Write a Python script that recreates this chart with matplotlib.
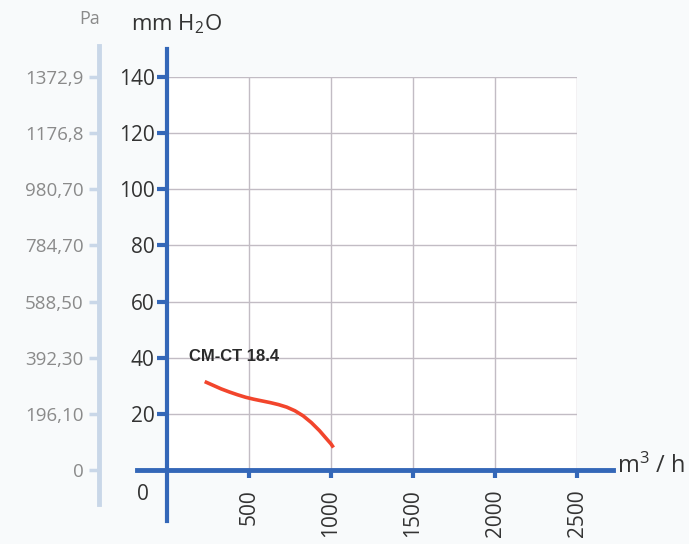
import matplotlib.pyplot as plt

# fan curve CM-CT 18.4
flow = [230, 280, 330, 380, 430, 480, 530, 580, 630, 680, 730, 780, 830, 880,
        930, 970, 1000, 1015]
pressure = [31.5, 30.2, 28.9, 27.8, 26.8, 25.9, 25.2, 24.6, 24.0, 23.3, 22.4,
            21.1, 19.3, 16.9, 14.0, 11.3, 9.3, 8.0]

x_ticks = [500, 1000, 1500, 2000, 2500]
mm_ticks = [20, 40, 60, 80, 100, 120, 140]
pa_ticks = [0, 20, 40, 60, 80, 100, 120, 140]
pa_labels = ['0', '196,10', '392,30', '588,50', '784,70', '980,70', '1176,8', '1372,9']

blue = '#3467b8'
light = '#c9d7e8'
bg = '#f8fafb'
plt.rcParams['font.family'] = ['Open Sans', 'DejaVu Sans']
plt.rcParams['mathtext.default'] = 'regular'

fig = plt.figure(figsize=(6.89, 5.44), dpi=100, facecolor=bg)
pos = [167 / 689, 74 / 544, 410 / 689, 393 / 544]

# Pa axis (secondary, drawn further left)
ax2 = fig.add_axes(pos)
ax2.set_facecolor('none')
for s in ['top', 'right', 'bottom']:
    ax2.spines[s].set_visible(False)
ax2.spines['left'].set_position(('outward', 49))
ax2.spines['left'].set_color(light)
ax2.spines['left'].set_linewidth(3.5)
ax2.spines['left'].set_bounds(-12, 151)
ax2.set_xlim(0, 2500)
ax2.set_ylim(0, 140)
ax2.set_xticks([])
ax2.set_yticks(pa_ticks)
ax2.set_yticklabels(pa_labels)
ax2.tick_params(axis='y', length=7, width=2.5, color=light, pad=4,
                labelsize=13.5, labelcolor='#8a8a8a')

ax = fig.add_axes(pos)
ax.set_facecolor('white')
ax.set_xlim(0, 2500)
ax.set_ylim(0, 140)
for s in ['top', 'right']:
    ax.spines[s].set_visible(False)
ax.spines['left'].set_color(blue)
ax.spines['left'].set_linewidth(3)
ax.spines['left'].set_bounds(-18, 150)
ax.spines['bottom'].set_color(blue)
ax.spines['bottom'].set_linewidth(3.5)
ax.spines['bottom'].set_bounds(-180, 2720)

ax.set_xticks(x_ticks)
ax.set_xticklabels([str(v) for v in x_ticks], rotation=90)
ax.set_yticks(mm_ticks)
ax.tick_params(axis='y', length=7, width=3, color=blue, pad=2,
               labelsize=15, labelcolor='#333333')
ax.tick_params(axis='x', length=6, width=3, color=blue, pad=8,
               labelsize=15, labelcolor='#333333')
ax.grid(True, color='#c2bcc4', linewidth=1)
ax.set_axisbelow(True)

ax.plot(flow, pressure, color='#f2452c', linewidth=2.6, solid_capstyle='butt',
        solid_joinstyle='round')
ax.text(135, 40.5, 'CM-CT 18.4', fontsize=12, fontweight='bold',
        family='Liberation Sans', color='#2a2a2a', va='center')

fig.text(90 / 689, 1 - 19 / 544, 'Pa', fontsize=13, color='#8a8a8a',
         ha='center', va='center')
fig.text(176 / 689, 1 - 24 / 544, 'mm H$_2$O', fontsize=16, color='#333333',
         ha='center', va='center')
fig.text(651 / 689, 1 - 466 / 544, 'm$^3$ / h', fontsize=17, color='#333333',
         ha='center', va='center')
fig.text(143 / 689, 1 - 495 / 544, '0', fontsize=15, color='#333333',
         ha='center', va='center')

fig.savefig('out.png', dpi=100, facecolor=bg)
